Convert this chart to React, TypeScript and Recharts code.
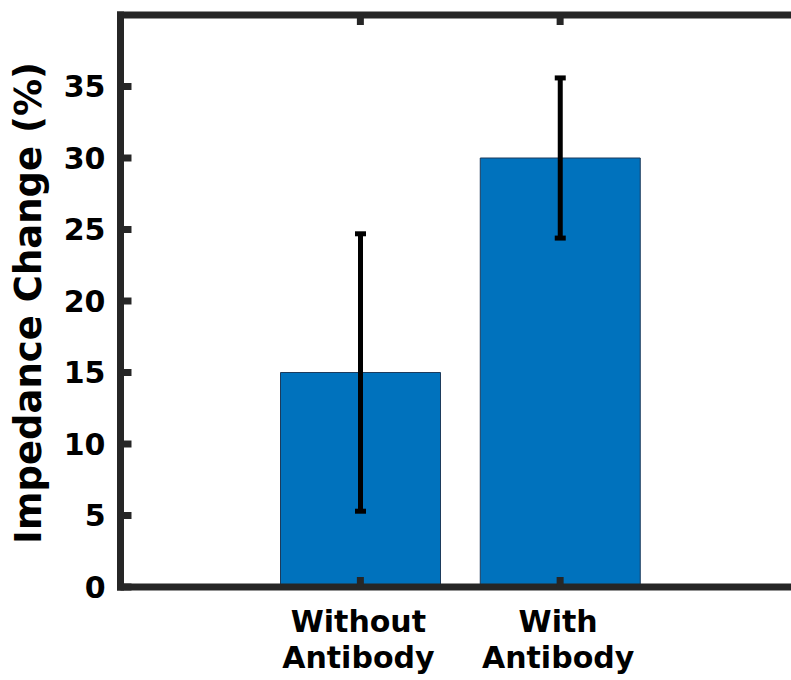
import React from 'react';
import { BarChart, Bar, XAxis, YAxis, ErrorBar } from 'recharts';

const categories = ['Without Antibody', 'With Antibody'];
const impedanceChange = [15, 30];
const errorValues = [9.7, 5.6];
const yTicks = [0, 5, 10, 15, 20, 25, 30, 35];

const data = categories.map((name, i) => ({
  name,
  value: impedanceChange[i],
  err: errorValues[i],
}));

const AXIS = '#262626';
const FONT = '"DejaVu Sans", Verdana, sans-serif';

// y ticks on the left: label outside, stub pointing in
const LeftTick = ({ x, y, payload }: any) => (
  <g>
    <line x1={x} x2={x + 11} y1={y} y2={y} stroke={AXIS} strokeWidth={7} />
    <text
      x={x - 15}
      y={y}
      dy="0.36em"
      textAnchor="end"
      fontFamily={FONT}
      fontWeight="bold"
      fontSize={30}
      fill="#000"
    >
      {payload.value}
    </text>
  </g>
);

const RightTick = ({ x, y }: any) => (
  <line x1={x} x2={x - 11} y1={y} y2={y} stroke={AXIS} strokeWidth={7} />
);

const BottomTick = ({ x, y, payload }: any) => {
  const lines = String(payload.value).split(' ');
  return (
    <g>
      <line x1={x} x2={x} y1={y} y2={y - 10} stroke={AXIS} strokeWidth={7} />
      <text
        x={x}
        y={y + 45}
        textAnchor="middle"
        fontFamily={FONT}
        fontWeight="bold"
        fontSize={30}
        fill="#000"
      >
        {lines.map((l, i) => (
          <tspan key={i} x={x - 2} dy={i === 0 ? 0 : 36}>
            {l}
          </tspan>
        ))}
      </text>
    </g>
  );
};

const TopTick = ({ x, y }: any) => (
  <line x1={x} x2={x} y1={y} y2={y + 10} stroke={AXIS} strokeWidth={7} />
);

const YLabel = () => (
  <text
    x={41}
    y={303}
    transform="rotate(-90 41 303)"
    textAnchor="middle"
    fontFamily={FONT}
    fontWeight="bold"
    fontSize={37}
    fill="#000"
  >
    Impedance Change (%)
  </text>
);

const axisLineStyle = { stroke: AXIS, strokeWidth: 7, strokeLinecap: 'square' as const };

export default function App() {
  return (
    <div
      style={{
        position: 'absolute',
        left: 0,
        top: 0,
        width: 791,
        height: 680,
        overflow: 'hidden',
        background: '#fff',
      }}
    >
      <BarChart
        width={830}
        height={680}
        data={data}
        margin={{ top: 0, right: 0, bottom: 0, left: 0 }}
      >
        <XAxis
          xAxisId="bottom"
          dataKey="name"
          orientation="bottom"
          height={93}
          padding={{ left: 140, right: 140 }}
          axisLine={axisLineStyle}
          tickLine={false}
          tickSize={0}
          tickMargin={0}
          tick={<BottomTick />}
          interval={0}
        />
        <XAxis
          xAxisId="top"
          dataKey="name"
          orientation="top"
          height={15}
          padding={{ left: 140, right: 140 }}
          axisLine={axisLineStyle}
          tickLine={false}
          tickSize={0}
          tickMargin={0}
          tick={<TopTick />}
          interval={0}
        />
        <YAxis
          yAxisId="left"
          orientation="left"
          width={120.5}
          domain={[0, 40]}
          ticks={yTicks}
          interval={0}
          axisLine={axisLineStyle}
          tickLine={false}
          tickSize={0}
          tickMargin={0}
          tick={<LeftTick />}
          label={{ content: () => <YLabel /> }}
        />
        <YAxis
          yAxisId="right"
          orientation="right"
          width={30}
          domain={[0, 40]}
          ticks={yTicks}
          interval={0}
          axisLine={axisLineStyle}
          tickLine={false}
          tickSize={0}
          tickMargin={0}
          tick={<RightTick />}
        />
        <Bar
          dataKey="value"
          xAxisId="bottom"
          yAxisId="left"
          barSize={160}
          fill="#0072BD"
          stroke="#1d3b5c"
          strokeWidth={1}
          isAnimationActive={false}
        >
          <ErrorBar
            dataKey="err"
            width={5.5}
            stroke="#000"
            strokeWidth={5}
            direction="y"
            isAnimationActive={false}
          />
        </Bar>
      </BarChart>
    </div>
  );
}
